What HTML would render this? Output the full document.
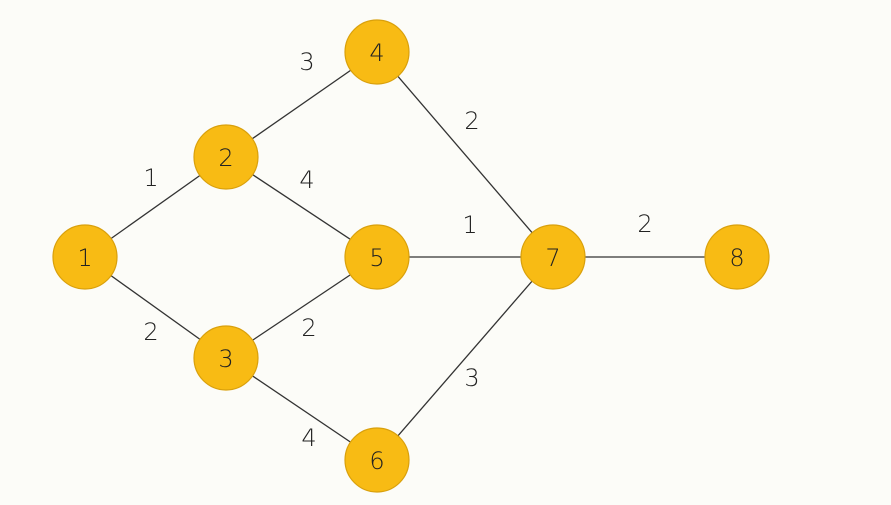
<!DOCTYPE html>
<html><head><style>body{margin:0;background:#fcfcf8}</style></head><body>
<svg width="891" height="505" xmlns="http://www.w3.org/2000/svg" style="display:block">
<rect width="891" height="505" fill="#fcfcf8"/>
<g stroke="#333" stroke-width="1.3">
<line x1="85" y1="257" x2="226" y2="157"/>
<line x1="85" y1="257" x2="226" y2="358"/>
<line x1="226" y1="157" x2="377" y2="52"/>
<line x1="226" y1="157" x2="377" y2="257"/>
<line x1="226" y1="358" x2="377" y2="257"/>
<line x1="226" y1="358" x2="377" y2="460"/>
<line x1="377" y1="52" x2="553" y2="257"/>
<line x1="377" y1="257" x2="553" y2="257"/>
<line x1="377" y1="460" x2="553" y2="257"/>
<line x1="553" y1="257" x2="737" y2="257"/>
</g>
<g fill="#f8bb14" stroke="#d9a00c" stroke-width="1.2">
<circle cx="85" cy="257" r="32"/><circle cx="226" cy="157" r="32"/>
<circle cx="226" cy="358" r="32"/><circle cx="377" cy="52" r="32"/>
<circle cx="377" cy="257" r="32"/><circle cx="377" cy="460" r="32"/>
<circle cx="553" cy="257" r="32"/><circle cx="737" cy="257" r="32"/>
</g>
<g font-family="DejaVu Sans, sans-serif" font-size="24" font-weight="300" fill="#222" text-anchor="middle" dominant-baseline="central">
<text x="85" y="258">1</text><text x="226" y="158">2</text><text x="226" y="359">3</text>
<text x="377" y="53">4</text><text x="377" y="258">5</text><text x="377" y="461">6</text>
<text x="553" y="258">7</text><text x="737" y="258">8</text>
<text x="151" y="178">1</text><text x="151" y="332">2</text>
<text x="307" y="62">3</text><text x="307" y="180">4</text>
<text x="309" y="328">2</text><text x="309" y="438">4</text>
<text x="472" y="121">2</text><text x="470" y="225">1</text>
<text x="472" y="378">3</text><text x="645" y="224">2</text>
</g>
</svg>
</body></html>
